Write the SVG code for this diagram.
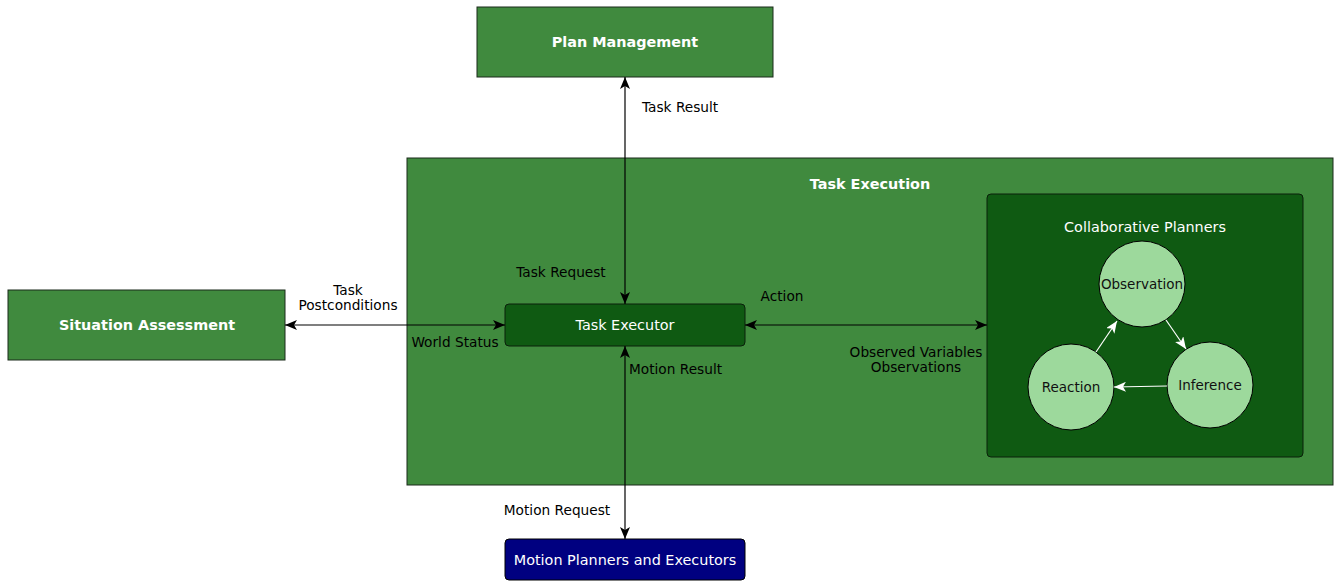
<svg xmlns="http://www.w3.org/2000/svg" width="1337" height="581" viewBox="0 0 1337 581">
<defs>
<style>
text{font-family:"DejaVu Sans","Noto Sans",sans-serif;}
.lbl{font-size:13.7px;fill:#000;}
.node{fill:#408a3e;stroke:#1a2a1a;stroke-width:1;}
.dark{fill:#0f5a12;stroke:#0a200a;stroke-width:1;}
.circ{fill:#9dd99c;stroke:#000;stroke-width:1;}
.bt{font-size:14.4px;font-weight:bold;fill:#fff;}
.wt{font-size:14.4px;fill:#fff;}
.ct{font-size:13.5px;fill:#111;}
.edge{stroke:#000;stroke-width:1.2;fill:none;}
.wedge{stroke:#fff;stroke-width:1.2;fill:none;}
</style>
<marker id="ah" viewBox="0 0 12 10" refX="12" refY="5" markerWidth="12" markerHeight="10" markerUnits="userSpaceOnUse" orient="auto-start-reverse">
<path d="M0,0 L12,5 L0,10 L3,5 Z" fill="#000"/>
</marker>
<marker id="wah" viewBox="0 0 12 10" refX="12" refY="5" markerWidth="12" markerHeight="10" markerUnits="userSpaceOnUse" orient="auto">
<path d="M0,0 L12,5 L0,10 L3,5 Z" fill="#fff"/>
</marker>
</defs>
<rect width="1337" height="581" fill="#fff"/>
<g id="task-execution">
<rect x="407" y="158" width="926" height="327" class="node"/>
<text x="870" y="189" text-anchor="middle" class="bt">Task Execution</text>
</g>
<g id="collaborative-planners">
<rect x="987" y="194" width="316" height="263" rx="4" class="dark"/>
<text x="1145" y="232" text-anchor="middle" class="wt">Collaborative Planners</text>
</g>
<g id="plan-management">
<rect x="477" y="7" width="296" height="70" class="node"/>
<text x="625" y="47" text-anchor="middle" class="bt">Plan Management</text>
</g>
<g id="situation-assessment">
<rect x="8" y="290" width="277" height="70" class="node"/>
<text x="147" y="330" text-anchor="middle" class="bt">Situation Assessment</text>
</g>
<g id="task-executor">
<rect x="505" y="304" width="240" height="42" rx="4" class="dark"/>
<text x="625" y="330" text-anchor="middle" class="wt">Task Executor</text>
</g>
<g id="motion-planners">
<rect x="505" y="539" width="240" height="41" rx="4" fill="#000080" stroke="#000"/>
<text x="625" y="565" text-anchor="middle" class="wt">Motion Planners and Executors</text>
</g>
<g id="observation">
<circle cx="1142" cy="284" r="43" class="circ"/>
<text x="1142" y="289" text-anchor="middle" class="ct">Observation</text>
</g>
<g id="inference">
<circle cx="1210" cy="385" r="43" class="circ"/>
<text x="1210" y="390" text-anchor="middle" class="ct">Inference</text>
</g>
<g id="reaction">
<circle cx="1071" cy="387" r="43" class="circ"/>
<text x="1071" y="392" text-anchor="middle" class="ct">Reaction</text>
</g>
<g id="connectors">
<line x1="625" y1="77" x2="625" y2="304" class="edge" marker-start="url(#ah)" marker-end="url(#ah)"/>
<line x1="285" y1="325" x2="505" y2="325" class="edge" marker-start="url(#ah)" marker-end="url(#ah)"/>
<line x1="745" y1="325" x2="987" y2="325" class="edge" marker-start="url(#ah)" marker-end="url(#ah)"/>
<line x1="625" y1="346" x2="625" y2="539" class="edge" marker-start="url(#ah)" marker-end="url(#ah)"/>
<line x1="1166" y1="320" x2="1186" y2="349" class="wedge" marker-end="url(#wah)"/>
<line x1="1167" y1="386" x2="1114" y2="387" class="wedge" marker-end="url(#wah)"/>
<line x1="1096" y1="352" x2="1117" y2="321" class="wedge" marker-end="url(#wah)"/>
<text x="642" y="112" class="lbl">Task Result</text>
<text x="561" y="277" text-anchor="middle" class="lbl">Task Request</text>
<text x="348" y="295" text-anchor="middle" class="lbl">Task</text>
<text x="348" y="310" text-anchor="middle" class="lbl">Postconditions</text>
<text x="455" y="347" text-anchor="middle" class="lbl">World Status</text>
<text x="782" y="301" text-anchor="middle" class="lbl">Action</text>
<text x="916" y="357" text-anchor="middle" class="lbl">Observed Variables</text>
<text x="916" y="372" text-anchor="middle" class="lbl">Observations</text>
<text x="629" y="374" class="lbl">Motion Result</text>
<text x="557" y="515" text-anchor="middle" class="lbl">Motion Request</text>
</g>
</svg>
